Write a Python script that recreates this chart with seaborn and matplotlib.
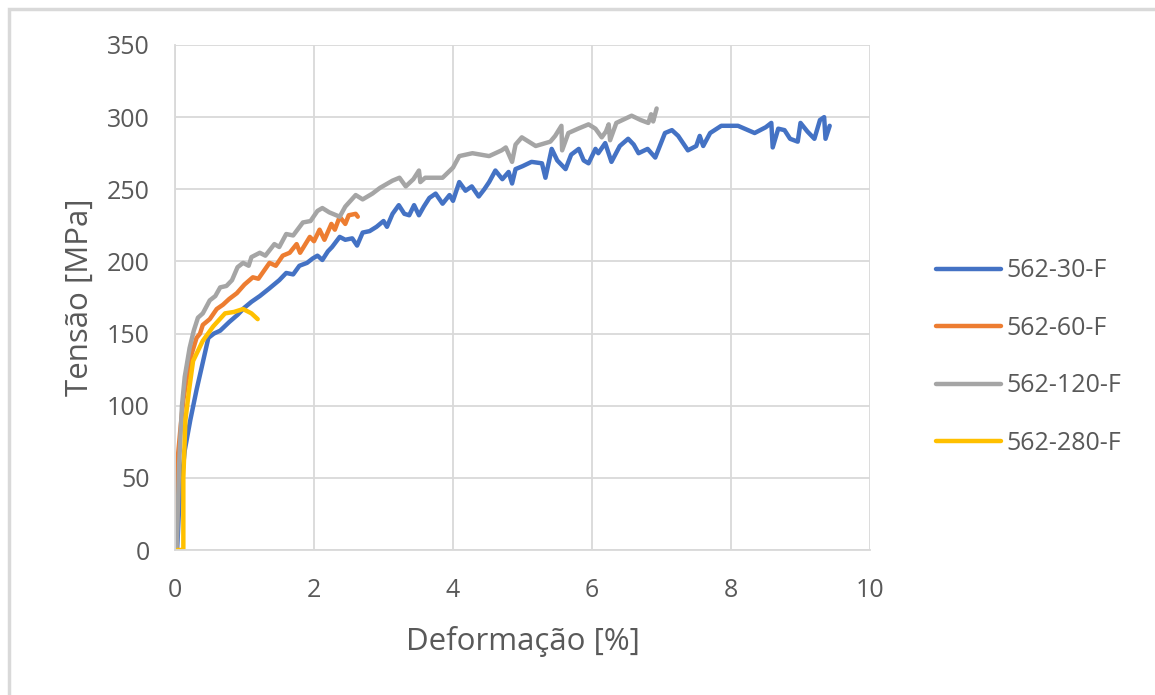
import pandas as pd
import matplotlib.pyplot as plt
import seaborn as sns
from matplotlib.patches import Rectangle

# Curvas tensão x deformação
def_30 = [0.03, 0.06, 0.10, 0.14, 0.22, 0.31, 0.40, 0.48, 0.56, 0.65, 0.78, 0.90, 1.00, 1.10, 1.22,
          1.35, 1.50, 1.60, 1.70, 1.79, 1.90, 1.98, 2.05, 2.12, 2.20, 2.26, 2.37, 2.45, 2.55, 2.62,
          2.70, 2.80, 2.90, 3.00, 3.05, 3.13, 3.22, 3.30, 3.37, 3.44, 3.51, 3.58, 3.66, 3.75, 3.85,
          3.95, 4.00, 4.09, 4.18, 4.27, 4.37, 4.45, 4.52, 4.61, 4.71, 4.80, 4.85, 4.90, 5.00, 5.13,
          5.28, 5.33, 5.42, 5.50, 5.62, 5.70, 5.81, 5.88, 5.95, 6.05, 6.09, 6.19, 6.28, 6.40, 6.52,
          6.60, 6.67, 6.80, 6.91, 7.05, 7.15, 7.24, 7.38, 7.50, 7.55, 7.60, 7.70, 7.86, 8.00, 8.10,
          8.34, 8.50, 8.58, 8.60, 8.68, 8.77, 8.85, 8.96, 9.00, 9.10, 9.20, 9.28, 9.34, 9.36, 9.42]
ten_30 = [0, 30, 50, 69, 90, 111, 130, 147, 150, 152, 158, 163, 168, 172, 176,
          181, 187, 192, 191, 197, 199, 202, 204, 201, 207, 210, 217, 215, 216, 211,
          220, 221, 224, 228, 224, 233, 239, 233, 232, 239, 232, 238, 244, 247, 240,
          246, 242, 255, 249, 252, 245, 250, 255, 263, 257, 262, 254, 264, 266, 269,
          268, 258, 278, 270, 264, 274, 278, 270, 268, 278, 275, 282, 269, 280, 285,
          281, 275, 278, 272, 289, 291, 287, 277, 280, 287, 280, 289, 294, 294, 294,
          289, 293, 296, 279, 292, 291, 285, 283, 296, 290, 285, 298, 300, 285, 294]

def_60 = [0.02, 0.04, 0.08, 0.12, 0.18, 0.24, 0.31, 0.36, 0.40, 0.50, 0.60, 0.69, 0.78, 0.89, 1.00,
          1.12, 1.20, 1.36, 1.45, 1.55, 1.65, 1.75, 1.80, 1.94, 2.00, 2.08, 2.15, 2.25, 2.30, 2.37,
          2.45, 2.50, 2.60, 2.63]
ten_60 = [0, 64, 85, 104, 122, 136, 147, 150, 156, 160, 167, 170, 174, 178, 184,
          189, 188, 199, 197, 204, 206, 212, 206, 217, 214, 222, 215, 226, 222, 231,
          226, 232, 233, 231]

def_120 = [0.02, 0.03, 0.06, 0.10, 0.14, 0.21, 0.27, 0.33, 0.40, 0.50, 0.58, 0.65, 0.74, 0.82, 0.90,
           0.98, 1.06, 1.10, 1.22, 1.30, 1.43, 1.50, 1.60, 1.70, 1.84, 1.95, 2.05, 2.12, 2.22, 2.37,
           2.45, 2.60, 2.70, 2.84, 2.95, 3.13, 3.23, 3.32, 3.43, 3.51, 3.53, 3.60, 3.85, 4.00, 4.09,
           4.28, 4.52, 4.70, 4.76, 4.85, 4.90, 4.99, 5.19, 5.40, 5.47, 5.56, 5.57, 5.66, 5.80, 5.95,
           6.05, 6.14, 6.20, 6.24, 6.26, 6.35, 6.57, 6.70, 6.81, 6.85, 6.88, 6.93]
ten_120 = [0, 10, 60, 100, 120, 140, 152, 161, 164, 173, 176, 182, 183, 187, 196,
           199, 197, 203, 206, 204, 212, 210, 219, 218, 227, 228, 235, 237, 234, 231,
           238, 246, 243, 247, 251, 256, 258, 252, 257, 263, 255, 258, 258, 265, 273,
           275, 273, 277, 279, 269, 281, 286, 280, 283, 287, 294, 277, 289, 292, 295,
           292, 286, 290, 295, 284, 296, 301, 298, 296, 302, 297, 306]

def_280 = [0.03, 0.12, 0.12, 0.15, 0.20, 0.26, 0.40, 0.55, 0.72, 0.85, 0.98, 1.10, 1.19]
ten_280 = [0, 0, 50, 90, 110, 131, 145, 155, 164, 165, 167, 164, 160]

series = ['562-30-F', '562-60-F', '562-120-F', '562-280-F']
cores = ['#4472C4', '#ED7D31', '#A5A5A5', '#FFC000']

frames = []
for nome, x, y in zip(series, [def_30, def_60, def_120, def_280], [ten_30, ten_60, ten_120, ten_280]):
    frames.append(pd.DataFrame({'Deformação': x, 'Tensão': y, 'amostra': nome}))
dados = pd.concat(frames, ignore_index=True)

sns.set_style('white')
plt.rcParams['font.family'] = ['Open Sans', 'DejaVu Sans']
cinza = '#595959'

fig = plt.figure(figsize=(11.55, 6.95), dpi=100)
ax = fig.add_axes([175 / 1155, 1 - 550 / 695, 695 / 1155, 505 / 695])

sns.lineplot(data=dados, x='Deformação', y='Tensão', hue='amostra', hue_order=series,
             palette=dict(zip(series, cores)), sort=False, estimator=None,
             linewidth=3.2, ax=ax)

ax.set_xlim(0, 10)
ax.set_ylim(0, 350)
ax.set_xticks(range(0, 11, 2))
ax.set_yticks(range(0, 351, 50))
ax.grid(True, color='#D9D9D9', linewidth=1.3)
ax.set_axisbelow(True)
for lado in ['top', 'right']:
    ax.spines[lado].set_visible(False)
for lado in ['left', 'bottom']:
    ax.spines[lado].set_color('#D9D9D9')
    ax.spines[lado].set_linewidth(1.3)
ax.tick_params(axis='both', length=0, labelsize=18, labelcolor=cinza)
ax.tick_params(axis='y', pad=18)
ax.tick_params(axis='x', pad=20)
ax.set_xlabel('Deformação [%]', fontsize=22.5, color=cinza, labelpad=17)
ax.set_ylabel('Tensão [MPa]', fontsize=22.5, color=cinza, labelpad=9)

ax.legend(title=None, frameon=False, fontsize=18, labelcolor=cinza,
          handlelength=2.6, handletextpad=0.25, labelspacing=1.3,
          loc='center left', bbox_to_anchor=(913 / 1155, 1 - 357 / 695),
          bbox_transform=fig.transFigure)

# moldura da área do gráfico (estilo Excel)
fig.patches.append(Rectangle((9 / 1155, -0.1), 1.2, 1 - 9 / 695 + 0.1, transform=fig.transFigure,
                             fill=False, edgecolor='#D9D9D9', linewidth=2.5))

fig.savefig('out.png', dpi=100)
